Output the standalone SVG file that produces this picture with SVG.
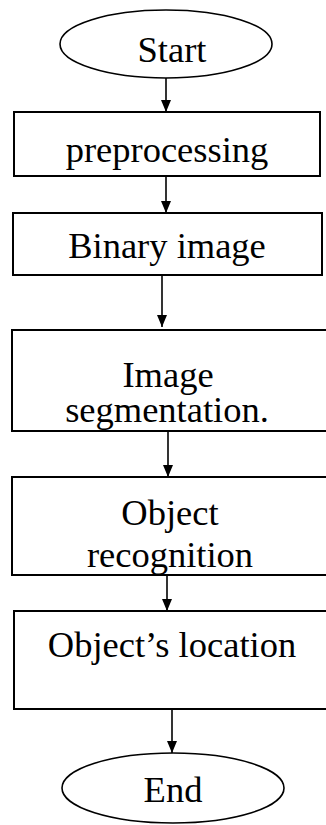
<svg xmlns="http://www.w3.org/2000/svg" width="326" height="825" viewBox="0 0 326 825">
  <style>
    .box { fill: #fff; stroke: #000; stroke-width: 2; }
    .term { fill: #fff; stroke: #000; stroke-width: 1.6; }
    .lbl { font-family: "Liberation Serif", "Times New Roman", serif; font-size: 36.5px; fill: #000; text-anchor: middle; }
    .wire { stroke: #000; stroke-width: 1.6; fill: none; marker-end: url(#head); }
  </style>
  <defs>
    <!-- filled triangular arrowhead, tip at the end of the line -->
    <marker id="head" viewBox="0 0 12 10" refX="12" refY="5" markerWidth="12" markerHeight="10" markerUnits="userSpaceOnUse" orient="auto">
      <path d="M0,0 L12,5 L0,10 Z" fill="#000"/>
    </marker>
  </defs>
  <rect width="326" height="825" fill="#fff"/>

  <g id="connectors">
    <path class="wire" d="M166,78 V112"/>
    <path class="wire" d="M166,176 V213"/>
    <path class="wire" d="M162,276 V327"/>
    <path class="wire" d="M168,431 V477"/>
    <path class="wire" d="M167,575 V611"/>
    <path class="wire" d="M172,709 V753"/>
  </g>

  <g id="start">
    <ellipse class="term" cx="166" cy="44" rx="106" ry="34"/>
    <text class="lbl" x="172" y="62">Start</text>
  </g>

  <g id="preprocessing">
    <rect class="box" x="14" y="112" width="306" height="64"/>
    <text class="lbl" x="167" y="162">preprocessing</text>
  </g>

  <g id="binary-image">
    <rect class="box" x="13" y="213" width="309" height="62"/>
    <text class="lbl" x="167" y="258">Binary image</text>
  </g>

  <g id="image-segmentation">
    <rect class="box" x="12" y="330" width="316" height="101"/>
    <text class="lbl" x="168" y="387">Image</text>
    <text class="lbl" x="167" y="422">segmentation.</text>
  </g>

  <g id="object-recognition">
    <rect class="box" x="12" y="477" width="316" height="98"/>
    <text class="lbl" x="170" y="525">Object</text>
    <text class="lbl" x="170" y="567">recognition</text>
  </g>

  <g id="object-location">
    <rect class="box" x="14" y="611" width="316" height="98"/>
    <text class="lbl" x="172" y="657">Object’s location</text>
  </g>

  <g id="end">
    <ellipse class="term" cx="173" cy="788" rx="111" ry="35"/>
    <text class="lbl" x="173" y="802">End</text>
  </g>
</svg>
